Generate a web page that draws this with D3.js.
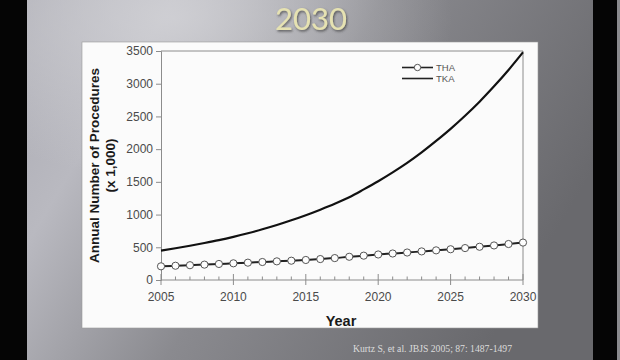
<!DOCTYPE html>
<html>
<head>
<meta charset="utf-8">
<script src="https://cdn.jsdelivr.net/npm/d3@7"></script>
<style>
  html, body { margin: 0; padding: 0; background: #000; }
  svg { display: block; }
</style>
</head>
<body>
<svg id="chart" width="620" height="360"></svg>
<script>
// ---- Data ----
const years = [2005,2006,2007,2008,2009,2010,2011,2012,2013,2014,2015,2016,2017,2018,2019,2020,2021,2022,2023,2024,2025,2026,2027,2028,2029,2030];
const thaValues = [209,218,226,235,245,255,265,275,285,295,306,320,335,355,372,390,405,420,437,453,470,488,508,528,550,572];
const tkaValues = [450,485,523,565,610,660,715,775,840,912,990,1075,1165,1265,1385,1510,1645,1790,1950,2125,2310,2510,2725,2960,3210,3480];
const yTicks = [0,500,1000,1500,2000,2500,3000,3500];
const xTicks = [2005,2010,2015,2020,2025,2030];
const seriesNames = ["THA","TKA"];
const titleText = "2030";
const yTitle1 = "Annual Number of Procedures";
const yTitle2 = "(x 1,000)";
const xTitle = "Year";
const citation = "Kurtz S, et al. JBJS 2005; 87: 1487-1497";

const svg = d3.select("#chart");
const defs = svg.append("defs");

// background gradient
const bg = defs.append("linearGradient").attr("id","bg")
  .attr("x1","0").attr("y1","0").attr("x2","1").attr("y2","0.35");
bg.append("stop").attr("offset","0").attr("stop-color","#a9a9b1");
bg.append("stop").attr("offset","0.25").attr("stop-color","#b9b9c0");
bg.append("stop").attr("offset","0.55").attr("stop-color","#8a8a8f");
bg.append("stop").attr("offset","1").attr("stop-color","#69696d");
const hl = defs.append("radialGradient").attr("id","hl")
  .attr("cx","0.28").attr("cy","0.05").attr("r","0.45");
hl.append("stop").attr("offset","0").attr("stop-color","#d4d4d8").attr("stop-opacity","0.8");
hl.append("stop").attr("offset","1").attr("stop-color","#d4d4d8").attr("stop-opacity","0");
const shadow = defs.append("filter").attr("id","ts").attr("x","-20%").attr("y","-20%").attr("width","140%").attr("height","140%");
shadow.append("feDropShadow").attr("dx","1").attr("dy","1.5").attr("stdDeviation","1.2").attr("flood-color","#333").attr("flood-opacity","0.7");

svg.append("rect").attr("x",0).attr("y",0).attr("width",620).attr("height",360).attr("fill","url(#bg)");
svg.append("rect").attr("x",0).attr("y",0).attr("width",620).attr("height",360).attr("fill","url(#hl)");
// black side bars
svg.append("rect").attr("x",0).attr("y",0).attr("width",27).attr("height",360).attr("fill","#050505");
svg.append("rect").attr("x",593).attr("y",0).attr("width",24).attr("height",360).attr("fill","#050505");
svg.append("rect").attr("x",617).attr("y",0).attr("width",3).attr("height",360).attr("fill","#8a8a8e");

// title
svg.append("text").attr("x",311).attr("y",30).attr("text-anchor","middle")
  .attr("font-family","Lato, 'Open Sans', sans-serif").attr("font-size",31)
  .attr("fill","#e6e2b2").attr("filter","url(#ts)").text(titleText);

// white panel
svg.append("rect").attr("x",82).attr("y",42).attr("width",456).attr("height",286)
  .attr("fill","#fbfbfb").attr("stroke","#9a9a9a").attr("stroke-width",0.6);

// scales
const x = d3.scaleLinear().domain([2005,2030]).range([161,523]);
const y = d3.scaleLinear().domain([0,3500]).range([280,51]);

const axisColor = "#8c8c8c";
const labelColor = "#4a4a4a";

// frame (top and right)
svg.append("line").attr("x1",x(2005)).attr("x2",x(2030)).attr("y1",y(3500)).attr("y2",y(3500))
  .attr("stroke",axisColor).attr("stroke-width",1);
svg.append("line").attr("x1",x(2030)).attr("x2",x(2030)).attr("y1",y(3500)).attr("y2",y(0))
  .attr("stroke",axisColor).attr("stroke-width",1);

// y axis
const yAxis = svg.append("g").attr("transform",`translate(${x(2005)},0)`)
  .call(d3.axisLeft(y).tickValues(yTicks).tickSize(5).tickPadding(3).tickFormat(d3.format("d")));
yAxis.select(".domain").attr("stroke",axisColor);
yAxis.selectAll(".tick line").attr("stroke",axisColor);
yAxis.selectAll("text").attr("font-family","'Liberation Sans', Arial, sans-serif")
  .attr("font-size",12).attr("fill",labelColor);

// x axis: minor ticks (inside), major ticks crossing
const xg = svg.append("g").attr("transform",`translate(0,${y(0)})`);
xg.append("line").attr("x1",x(2005)).attr("x2",x(2030)).attr("y1",0).attr("y2",0).attr("stroke",axisColor);
xg.selectAll("line.minor").data(years.filter(d => !xTicks.includes(d))).enter().append("line")
  .attr("class","minor").attr("x1",d=>x(d)).attr("x2",d=>x(d)).attr("y1",0).attr("y2",-3.5)
  .attr("stroke",axisColor);
xg.selectAll("line.major").data(xTicks).enter().append("line")
  .attr("class","major").attr("x1",d=>x(d)).attr("x2",d=>x(d)).attr("y1",-6).attr("y2",5)
  .attr("stroke",axisColor);
xg.selectAll("text").data(xTicks).enter().append("text")
  .attr("x",d=>x(d)).attr("y",21).attr("text-anchor","middle")
  .attr("font-family","'Liberation Sans', Arial, sans-serif").attr("font-size",12)
  .attr("fill",labelColor).text(d=>d);

// axis titles
const yt = svg.append("g").attr("transform",`translate(0,${(y(0)+y(3500))/2})`);
yt.append("text").attr("transform","translate(99,0) rotate(-90)").attr("text-anchor","middle")
  .attr("font-family","'Liberation Sans', Arial, sans-serif").attr("font-weight","bold").attr("font-size",13.5)
  .attr("fill","#1a1a1a").text(yTitle1);
yt.append("text").attr("transform","translate(115,0) rotate(-90)").attr("text-anchor","middle")
  .attr("font-family","'Liberation Sans', Arial, sans-serif").attr("font-weight","bold").attr("font-size",13.5)
  .attr("fill","#1a1a1a").text(yTitle2);
svg.append("text").attr("x",341).attr("y",326).attr("text-anchor","middle")
  .attr("font-family","'Liberation Sans', Arial, sans-serif").attr("font-weight","bold").attr("font-size",14.5)
  .attr("fill","#1a1a1a").text(xTitle);

// lines
const tkaData = years.map((yr,i)=>({yr, v: tkaValues[i]}));
const thaData = years.map((yr,i)=>({yr, v: thaValues[i]}));
const line = d3.line().x(d=>x(d.yr)).y(d=>y(d.v)).curve(d3.curveMonotoneX);
svg.append("path").datum(tkaData).attr("d",line).attr("fill","none")
  .attr("stroke","#111").attr("stroke-width",2.2);
svg.append("path").datum(thaData).attr("d",line).attr("fill","none")
  .attr("stroke","#222").attr("stroke-width",2);
svg.selectAll("circle.tha").data(thaData).enter().append("circle").attr("class","tha")
  .attr("cx",d=>x(d.yr)).attr("cy",d=>y(d.v)).attr("r",3.6)
  .attr("fill","#fdfdfd").attr("stroke","#555").attr("stroke-width",1);

// legend
const lg = svg.append("g").attr("transform","translate(402,67.5)");
seriesNames.forEach((name,i)=>{
  const g = lg.append("g").attr("transform",`translate(0,${i*11})`);
  g.append("line").attr("x1",0).attr("x2",31).attr("y1",0).attr("y2",0).attr("stroke","#222").attr("stroke-width",1.6);
  if (name === "THA") g.append("circle").attr("cx",15.5).attr("cy",0).attr("r",3.2)
    .attr("fill","#fdfdfd").attr("stroke","#555").attr("stroke-width",1);
  g.append("text").attr("x",34).attr("y",3.5).attr("font-family","'Liberation Sans', Arial, sans-serif")
    .attr("font-size",9.5).attr("fill","#555").text(name);
});

// citation
svg.append("text").attr("x",353).attr("y",352)
  .attr("font-family","'Liberation Serif', 'Times New Roman', serif").attr("font-size",9.7)
  .attr("fill","#dcdcdc").text(citation);
</script>
</body>
</html>
